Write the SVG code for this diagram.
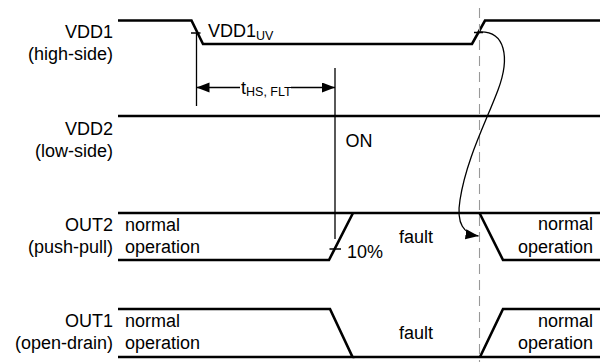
<svg xmlns="http://www.w3.org/2000/svg" width="602" height="362" viewBox="0 0 602 362">
<style>
text{font-family:"Liberation Sans",Arial,sans-serif;font-size:18px;fill:#000}
.lbl{text-anchor:end}
.sub{font-size:12.5px}
.wave{fill:none;stroke:#000;stroke-width:2.6;stroke-linejoin:miter}
.thin{fill:none;stroke:#000;stroke-width:1.3}
.dash{fill:none;stroke:#999;stroke-width:1.1;stroke-dasharray:10 6}
</style>
<defs>
<marker id="ah" markerUnits="userSpaceOnUse" markerWidth="14" markerHeight="11" refX="13" refY="5" orient="auto">
<path d="M0,0 L13,5 L0,10 z" fill="#000"/>
</marker>
</defs>
<rect width="602" height="362" fill="#fff"/>
<g id="vdd1">
<text class="lbl" x="113" y="37.5">VDD1</text>
<text class="lbl" x="113" y="60">(high-side)</text>
<path class="wave" d="M118,20.5 H191.5 L203,44 H472 L485,20.5 H600"/>
<text x="208" y="37">VDD1<tspan class="sub" font-size="13" dy="3">UV</tspan></text>
</g>
<g id="vdd2">
<text class="lbl" x="113" y="135">VDD2</text>
<text class="lbl" x="113" y="157">(low-side)</text>
<path class="wave" d="M118,116 H600"/>
<text x="345.5" y="146.5">ON</text>
</g>
<g id="out2">
<text class="lbl" x="113" y="231">OUT2</text>
<text class="lbl" x="113" y="253">(push-pull)</text>
<path class="wave" d="M118,213 H600"/>
<path class="wave" d="M118,260 H329 L353,213"/>
<path class="wave" d="M479.5,213 L503,260 H600"/>
<text x="125" y="230.5">normal</text>
<text x="125" y="253">operation</text>
<text x="399" y="243">fault</text>
<text x="347" y="258">10%</text>
<text x="593" y="230" text-anchor="end">normal</text>
<text x="593" y="253" text-anchor="end">operation</text>
</g>
<g id="out1">
<text class="lbl" x="113" y="327">OUT1</text>
<text class="lbl" x="113" y="349">(open-drain)</text>
<path class="wave" d="M118,309 H330 L352.5,357 H118"/>
<path class="wave" d="M352.5,357 H600"/>
<path class="wave" d="M480,357 L503,309 H600"/>
<text x="125" y="327">normal</text>
<text x="125" y="349">operation</text>
<text x="399" y="339">fault</text>
<text x="593" y="327" text-anchor="end">normal</text>
<text x="593" y="349" text-anchor="end">operation</text>
</g>
<g id="connectors">
<line class="dash" x1="479.5" y1="8" x2="479.5" y2="362"/>
<path class="thin" d="M191,33 H200.5 M196.5,33 V106 M335,68 V239 M329.5,249 H341 M474,32.5 H483"/>
<line class="thin" x1="240" y1="87.5" x2="196.5" y2="87.5" marker-end="url(#ah)"/>
<line class="thin" x1="291" y1="87.5" x2="335" y2="87.5" marker-end="url(#ah)"/>
<text x="241" y="93.5">t<tspan class="sub" font-size="12" dy="2.5">HS, FLT</tspan></text>
<path class="thin" d="M478,32 C506,30 510,58 498,90 C486,122 466,160 460,200 C456,224 464,234 478.5,236" marker-end="url(#ah)"/>
</g>
</svg>
